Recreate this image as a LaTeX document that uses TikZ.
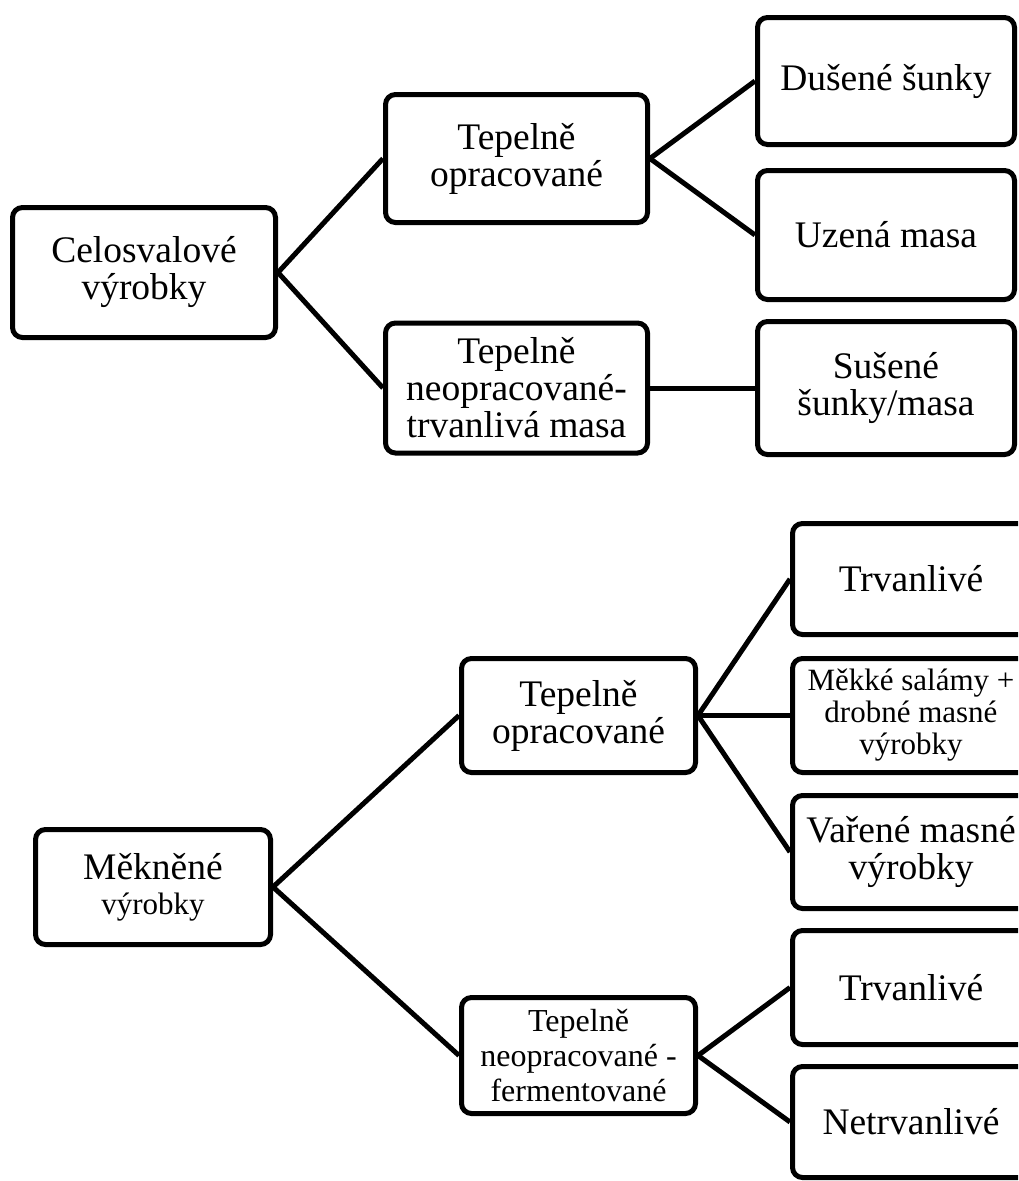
\documentclass[tikz,border=0pt]{standalone}
\usepackage{fontspec}
\setmainfont{Liberation Serif}
\newfontfamily\serifface{Liberation Serif}
\usetikzlibrary{positioning}
\newcommand{\bigtext}{\serifface\fontsize{37.5}{37}\selectfont}
\newcommand{\smalltext}{\serifface\fontsize{31}{32}\selectfont}
\newcommand{\midtext}{\serifface\fontsize{32}{35}\selectfont}
\tikzset{
  catbox/.style={rectangle, rounded corners=10pt, draw, line width=5pt,
    align=center, font=\bigtext, inner sep=2pt,
    minimum width=262pt, minimum height=129pt},
  leafbox/.style={catbox, minimum width=257pt},
  cutbox/.style={catbox, minimum width=237pt},
  link/.style={line width=5pt},
}

\begin{document}
\begin{tikzpicture}[x=1pt, y=-1pt]
  \clip (0,0) rectangle (1018,1181);

  % Celosvalove vyrobky
  \node[catbox, minimum width=263pt, minimum height=130pt] (cel) at (144,272.5) {Celosvalové\\výrobky};
  \node[catbox, minimum height=128pt] (opr) at (516.5,158.5) {Tepelně\\opracované};
  \node[catbox, minimum height=130pt] (neopr) at (516.5,388) {Tepelně\\neopracované-\\trvanlivá masa};
  \node[leafbox, minimum height=127pt] (dus) at (886,81) {Dušené šunky};
  \node[leafbox] (uze) at (886,235) {Uzená masa};
  \node[leafbox, minimum height=133pt] (sus) at (886,388) {Sušené\\šunky/masa};

  \draw[link] (cel.east) -- (opr.west);
  \draw[link] (cel.east) -- (neopr.west);
  \draw[link] (opr.east) -- (dus.west);
  \draw[link] (opr.east) -- (uze.west);
  \draw[link] (neopr.east) -- (sus.west);

  % Meknene vyrobky
  \node[catbox, minimum width=235pt, minimum height=115pt] (mek) at (153,887) {Měkněné\\[-2pt]{\fontsize{31}{31}\selectfont výrobky}};
  \node[catbox, minimum width=234pt, minimum height=114pt] (opr2) at (578.5,715.5) {Tepelně\\opracované};
  \node[catbox, minimum width=234pt, minimum height=116pt, font=\midtext] (neo2) at (578.5,1055.5) {Tepelně\\neopracované -\\fermentované};
  \node[cutbox, minimum height=111pt] (trv1) at (911,579) {Trvanlivé};
  \node[cutbox, minimum height=114pt, font=\smalltext] (mek2) at (911,715.5) {Měkké salámy +\\drobné masné\\výrobky};
  \node[cutbox, minimum height=113pt] (var) at (911,852) {Vařené masné\\výrobky};
  \node[cutbox, minimum height=114pt] (trv2) at (911,987.5) {Trvanlivé};
  \node[cutbox, minimum height=111pt] (net) at (911,1122) {Netrvanlivé};

  \draw[link] (mek.east) -- (opr2.west);
  \draw[link] (mek.east) -- (neo2.west);
  \draw[link] (opr2.east) -- (trv1.west);
  \draw[link] (opr2.east) -- (mek2.west);
  \draw[link] (opr2.east) -- (var.west);
  \draw[link] (neo2.east) -- (trv2.west);
  \draw[link] (neo2.east) -- (net.west);
\end{tikzpicture}
\end{document}
